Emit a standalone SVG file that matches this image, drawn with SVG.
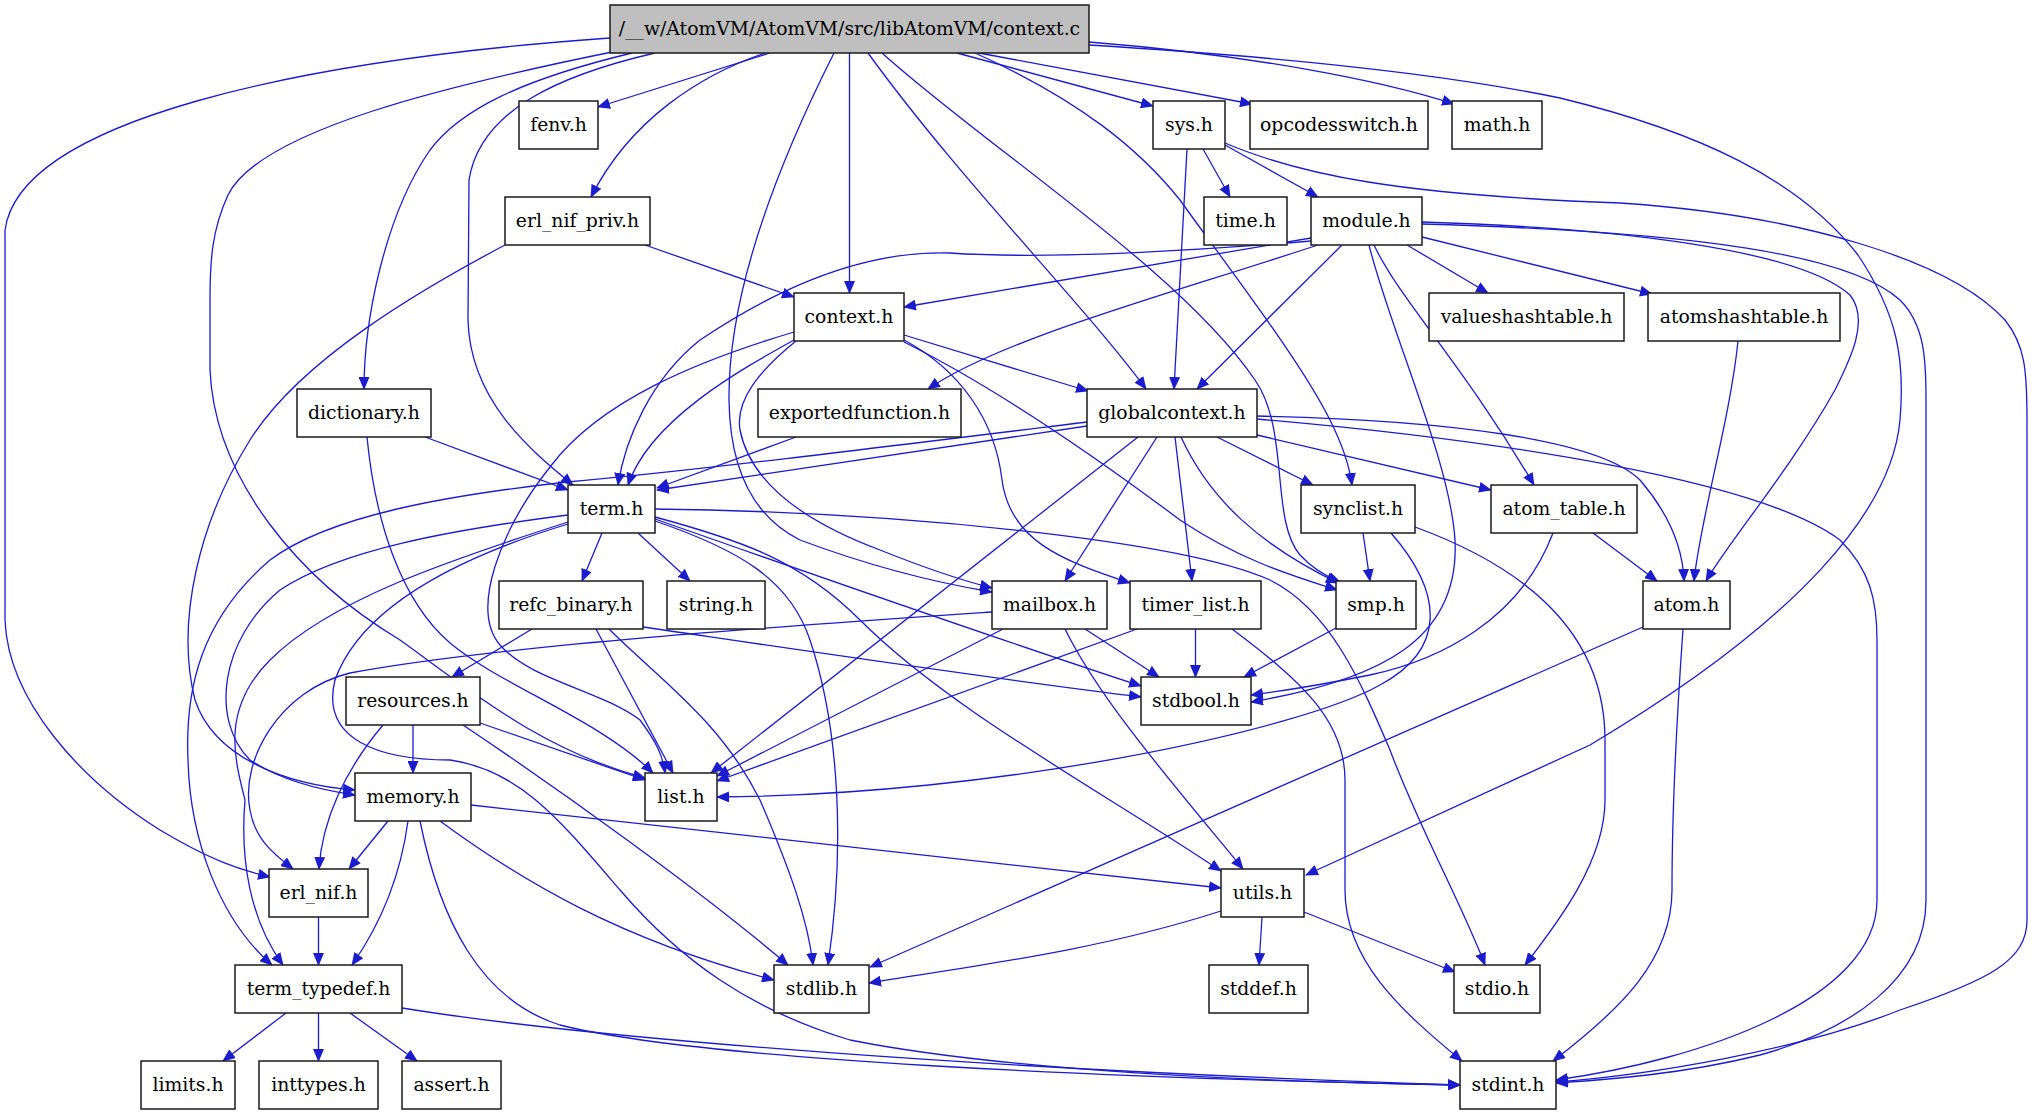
<svg xmlns="http://www.w3.org/2000/svg" width="2035" height="1115" viewBox="0 0 2035 1115">
<defs>
<style>
.n rect{fill:#fff;stroke:#1a1a1a;stroke-width:1.5}
#ctxc rect{fill:#bfbfbf}
.n text{font-family:"DejaVu Serif","Liberation Serif",serif;font-size:18.8px;text-anchor:middle;fill:#000}
#edges path{fill:none;stroke:#1c1ccf;stroke-width:1.3;marker-end:url(#a)}
</style>
<marker id="a" viewBox="0 0 13 11" refX="12" refY="5.5" markerWidth="13" markerHeight="11" markerUnits="userSpaceOnUse" orient="auto"><path d="M0,0 L13,5.5 L0,11 z" fill="#1c1ccf"/></marker>
</defs>
<rect width="2035" height="1115" fill="#fff"/>
<g id="edges">
<path d="M770,53 L598,107"/>
<path d="M765,53 C700,75 630,120 591,197"/>
<path d="M849.5,53 L849.5,293"/>
<path d="M957,53 L1153,106"/>
<path d="M979,53 L1252,104"/>
<path d="M1089,42 C1250,55 1380,80 1454,104"/>
<path d="M632,53 C520,80 460,110 430,150 C385,215 364,320 364,389"/>
<path d="M610,38 C300,60 20,120 5,230 L5,620 C8,700 80,780 160,830 C210,860 240,870 270,877"/>
<path d="M612,52 C450,85 260,130 228,195 C212,230 210,260 210,300 L210,370 C215,480 300,580 400,640 C470,690 540,750 645,778"/>
<path d="M655,53 C560,75 480,110 469,180 L468,320 C470,400 530,450 573,485"/>
<path d="M868,53 C960,180 1080,300 1146,389"/>
<path d="M834,53 C770,180 728,300 729,400 C730,480 760,520 800,540 C880,570 950,585 992,592"/>
<path d="M882,53 C990,150 1180,270 1255,380 C1290,430 1270,520 1300,555 C1312,568 1325,576 1340,582"/>
<path d="M975,53 C1080,100 1140,150 1180,200 C1230,270 1300,360 1330,420 C1345,450 1350,470 1352,485"/>
<path d="M1089,45 C1300,58 1450,75 1560,98 C1700,132 1800,180 1858,255 C1898,315 1905,360 1900,420 C1892,510 1800,620 1590,745 L1306,875"/>
<path d="M1203,149 L1230,197"/>
<path d="M1225,145 L1318,197"/>
<path d="M1187,149 L1174,389"/>
<path d="M1225,143 C1300,175 1400,195 1620,203 C1800,215 1950,260 2005,320 C2025,345 2027,370 2027,420 L2027,920 C2027,960 1990,980 1900,1010 C1800,1050 1650,1075 1556,1082"/>
<path d="M645,245 L794,297"/>
<path d="M505,245 C420,290 300,360 250,440 C200,520 175,620 195,700 C215,760 290,785 355,790"/>
<path d="M1311,238 L904,307"/>
<path d="M1311,241 C1200,250 1050,260 950,253 C850,250 760,300 700,340 C650,380 625,440 618,485"/>
<path d="M1318,245 C1150,300 1000,340 928,389"/>
<path d="M1342,245 L1197,389"/>
<path d="M1374,245 C1400,300 1460,360 1534,485"/>
<path d="M1407,245 L1488,293"/>
<path d="M1422,237 L1652,294"/>
<path d="M1422,222 C1620,228 1800,250 1850,295 C1870,320 1850,360 1835,390 C1790,470 1730,540 1706,581"/>
<path d="M1422,224 C1700,232 1850,255 1900,300 C1925,325 1926,360 1926,400 L1926,900 C1926,980 1850,1030 1760,1055 C1680,1075 1600,1080 1556,1083"/>
<path d="M1369,245 C1390,330 1450,460 1455,540 C1460,640 1380,680 1251,702"/>
<path d="M794,340 C740,370 650,420 628,485"/>
<path d="M794,332 C700,360 600,400 550,467 C500,530 470,610 500,645 C530,680 600,690 640,720 C655,740 663,755 665,773"/>
<path d="M796,341 C760,370 735,400 740,430 C750,480 800,520 880,550 C930,570 960,580 992,588"/>
<path d="M904,335 L1088,391"/>
<path d="M904,340 C960,370 995,420 1002,480 C1010,540 1060,560 1130,583"/>
<path d="M904,342 C1000,390 1100,460 1180,520 C1240,560 1290,575 1337,590"/>
<path d="M1738,341 C1730,420 1700,520 1694,581"/>
<path d="M425,437 L568,490"/>
<path d="M367,437 C375,520 400,600 450,643 C500,685 600,720 653,773"/>
<path d="M796,437 L657,488"/>
<path d="M1087,426 L657,490"/>
<path d="M1087,422 C900,445 700,470 567,482 C450,495 330,515 270,560 C200,620 185,690 188,760 C190,840 220,920 272,965"/>
<path d="M1138,437 L711,773"/>
<path d="M1157,437 L1065,581"/>
<path d="M1175,437 L1192,581"/>
<path d="M1181,437 C1210,500 1260,545 1338,583"/>
<path d="M1217,437 L1313,485"/>
<path d="M1257,435 L1491,490"/>
<path d="M1257,416 C1450,420 1600,440 1640,480 C1670,515 1683,550 1684,581"/>
<path d="M1257,419 C1500,440 1760,480 1840,540 C1870,570 1877,600 1877,640 L1877,900 C1877,1000 1700,1060 1556,1080"/>
<path d="M602,533 L582,581"/>
<path d="M638,533 L690,581"/>
<path d="M655,509 C900,512 1180,540 1270,580 C1330,610 1360,680 1390,750 C1420,830 1460,900 1485,965"/>
<path d="M655,517 C740,540 800,560 860,620 C950,710 1100,790 1221,871"/>
<path d="M655,519 C800,570 1000,640 1141,686"/>
<path d="M655,521 C740,550 790,580 810,640 C840,730 845,850 828,965"/>
<path d="M568,515 C450,530 340,550 280,590 C220,640 210,720 250,760 C280,780 320,790 355,795"/>
<path d="M568,522 C450,560 330,600 270,660 C220,710 235,760 245,800 C240,860 250,920 283,965"/>
<path d="M568,524 C450,560 360,610 335,680 C320,740 380,760 450,760 C520,770 560,820 620,890 C680,960 750,1010 850,1040 C1000,1070 1250,1082 1460,1085"/>
<path d="M1363,533 L1370,581"/>
<path d="M1415,527 C1560,580 1605,660 1605,740 L1605,800 C1605,860 1560,920 1525,965"/>
<path d="M1391,533 C1445,595 1445,650 1380,685 C1300,730 1000,795 717,797"/>
<path d="M1593,533 L1657,581"/>
<path d="M1553,533 C1520,620 1440,660 1370,675 C1320,685 1290,690 1251,695"/>
<path d="M532,629 L452,677"/>
<path d="M596,629 L673,773"/>
<path d="M609,629 C660,680 720,720 760,800 C790,870 808,920 813,965"/>
<path d="M643,627 C800,650 1000,680 1141,697"/>
<path d="M1003,629 L717,776"/>
<path d="M1065,629 C1100,700 1170,780 1243,869"/>
<path d="M1085,629 L1159,677"/>
<path d="M992,612 C800,625 500,645 350,673 C280,690 240,760 250,810 C255,840 275,855 293,869"/>
<path d="M1195.5,629 L1195.5,677"/>
<path d="M1137,629 L717,781"/>
<path d="M1232,629 C1300,680 1345,720 1345,780 L1345,890 C1345,960 1400,1010 1462,1061"/>
<path d="M1336,628 L1244,677"/>
<path d="M1643,627 L870,967"/>
<path d="M1683,629 C1678,700 1672,800 1672,890 C1672,960 1620,1010 1553,1061"/>
<path d="M413,725 L413,773"/>
<path d="M383,725 C345,770 322,820 319,869"/>
<path d="M480,723 L645,780"/>
<path d="M463,725 C560,790 700,890 788,965"/>
<path d="M388,821 L349,869"/>
<path d="M408,821 C400,880 380,925 352,965"/>
<path d="M440,821 C520,880 620,940 774,980"/>
<path d="M420,821 C440,920 480,1000 560,1025 C700,1060 1100,1078 1460,1085"/>
<path d="M471,805 L1221,888"/>
<path d="M318.5,917 L318.5,965"/>
<path d="M1221,911 C1100,950 980,965 869,983"/>
<path d="M1262,917 L1259,965"/>
<path d="M1304,912 L1455,972"/>
<path d="M286,1013 L223,1061"/>
<path d="M318.5,1013 L318.5,1061"/>
<path d="M350,1013 L417,1061"/>
<path d="M402,1008 C600,1040 1000,1070 1460,1085"/>
</g>
<g id="ctxc" class="n"><rect x="610" y="5" width="479" height="48"/><text x="849.5" y="35">/__w/AtomVM/AtomVM/src/libAtomVM/context.c</text></g>
<g id="fenv" class="n"><rect x="519" y="101" width="79" height="48"/><text x="558.5" y="131">fenv.h</text></g>
<g id="sys" class="n"><rect x="1153" y="101" width="72" height="48"/><text x="1189" y="131">sys.h</text></g>
<g id="opcodesswitch" class="n"><rect x="1250" y="101" width="178" height="48"/><text x="1339" y="131">opcodesswitch.h</text></g>
<g id="math" class="n"><rect x="1452" y="101" width="90" height="48"/><text x="1497" y="131">math.h</text></g>
<g id="erl_nif_priv" class="n"><rect x="505" y="197" width="145" height="48"/><text x="577.5" y="227">erl_nif_priv.h</text></g>
<g id="time" class="n"><rect x="1204" y="197" width="83" height="48"/><text x="1245.5" y="227">time.h</text></g>
<g id="module" class="n"><rect x="1311" y="197" width="111" height="48"/><text x="1366.5" y="227">module.h</text></g>
<g id="context_h" class="n"><rect x="794" y="293" width="110" height="48"/><text x="849" y="323">context.h</text></g>
<g id="valueshashtable" class="n"><rect x="1429" y="293" width="195" height="48"/><text x="1526.5" y="323">valueshashtable.h</text></g>
<g id="atomshashtable" class="n"><rect x="1648" y="293" width="192" height="48"/><text x="1744" y="323">atomshashtable.h</text></g>
<g id="dictionary" class="n"><rect x="297" y="389" width="134" height="48"/><text x="364" y="419">dictionary.h</text></g>
<g id="exportedfunction" class="n"><rect x="758" y="389" width="203" height="48"/><text x="859.5" y="419">exportedfunction.h</text></g>
<g id="globalcontext" class="n"><rect x="1087" y="389" width="170" height="48"/><text x="1172" y="419">globalcontext.h</text></g>
<g id="term" class="n"><rect x="568" y="485" width="87" height="48"/><text x="611.5" y="515">term.h</text></g>
<g id="synclist" class="n"><rect x="1301" y="485" width="114" height="48"/><text x="1358" y="515">synclist.h</text></g>
<g id="atom_table" class="n"><rect x="1491" y="485" width="146" height="48"/><text x="1564" y="515">atom_table.h</text></g>
<g id="refc_binary" class="n"><rect x="499" y="581" width="144" height="48"/><text x="571" y="611">refc_binary.h</text></g>
<g id="string" class="n"><rect x="667" y="581" width="98" height="48"/><text x="716" y="611">string.h</text></g>
<g id="mailbox" class="n"><rect x="992" y="581" width="115" height="48"/><text x="1049.5" y="611">mailbox.h</text></g>
<g id="timer_list" class="n"><rect x="1130" y="581" width="131" height="48"/><text x="1195.5" y="611">timer_list.h</text></g>
<g id="smp" class="n"><rect x="1336" y="581" width="80" height="48"/><text x="1376" y="611">smp.h</text></g>
<g id="atom" class="n"><rect x="1643" y="581" width="87" height="48"/><text x="1686.5" y="611">atom.h</text></g>
<g id="resources" class="n"><rect x="346" y="677" width="134" height="48"/><text x="413" y="707">resources.h</text></g>
<g id="stdbool" class="n"><rect x="1141" y="677" width="110" height="48"/><text x="1196" y="707">stdbool.h</text></g>
<g id="memory" class="n"><rect x="355" y="773" width="116" height="48"/><text x="413" y="803">memory.h</text></g>
<g id="list" class="n"><rect x="645" y="773" width="72" height="48"/><text x="681" y="803">list.h</text></g>
<g id="erl_nif" class="n"><rect x="269" y="869" width="99" height="48"/><text x="318.5" y="899">erl_nif.h</text></g>
<g id="utils" class="n"><rect x="1221" y="869" width="83" height="48"/><text x="1262.5" y="899">utils.h</text></g>
<g id="term_typedef" class="n"><rect x="235" y="965" width="167" height="48"/><text x="318.5" y="995">term_typedef.h</text></g>
<g id="stdlib" class="n"><rect x="774" y="965" width="95" height="48"/><text x="821.5" y="995">stdlib.h</text></g>
<g id="stddef" class="n"><rect x="1209" y="965" width="99" height="48"/><text x="1258.5" y="995">stddef.h</text></g>
<g id="stdio" class="n"><rect x="1454" y="965" width="86" height="48"/><text x="1497" y="995">stdio.h</text></g>
<g id="limits" class="n"><rect x="141" y="1061" width="94" height="48"/><text x="188" y="1091">limits.h</text></g>
<g id="inttypes" class="n"><rect x="259" y="1061" width="119" height="48"/><text x="318.5" y="1091">inttypes.h</text></g>
<g id="assert" class="n"><rect x="402" y="1061" width="99" height="48"/><text x="451.5" y="1091">assert.h</text></g>
<g id="stdint" class="n"><rect x="1460" y="1061" width="96" height="48"/><text x="1508" y="1091">stdint.h</text></g>
</svg>
